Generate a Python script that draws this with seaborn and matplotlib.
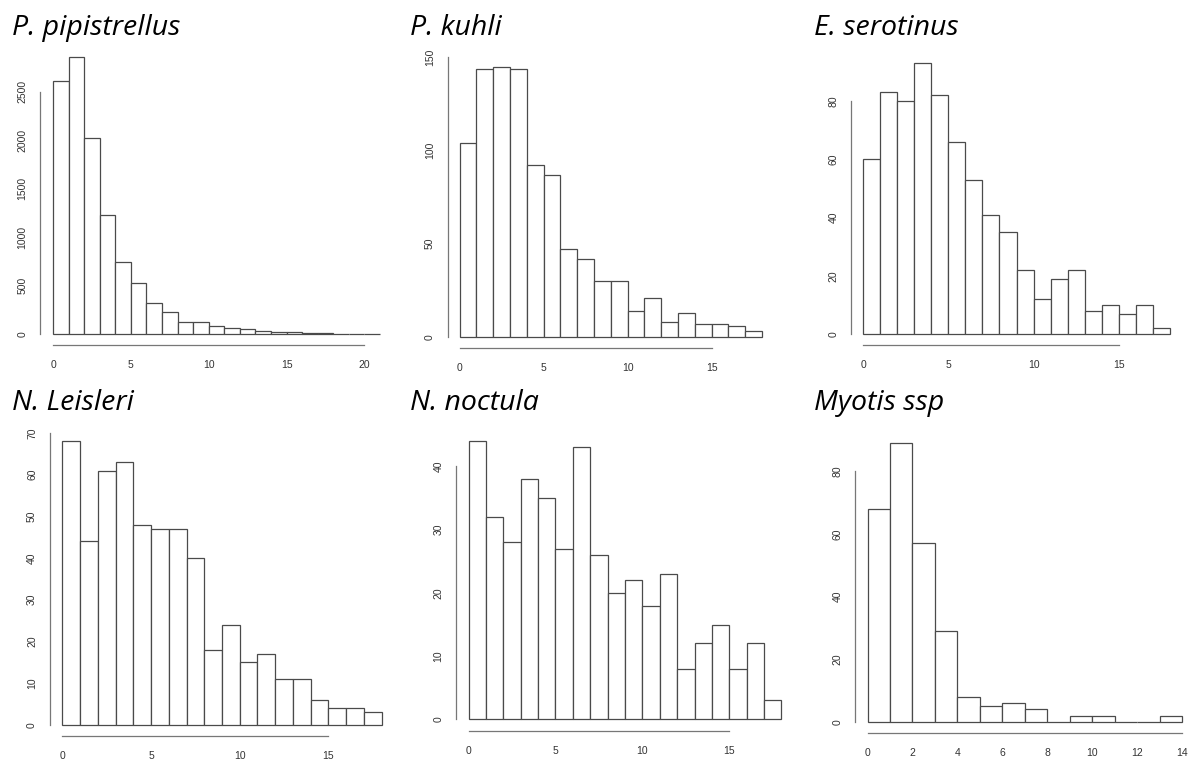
import numpy as np
import pandas as pd
import seaborn as sns
import matplotlib
matplotlib.use("Agg")
import matplotlib.pyplot as plt

# counts per 1-unit bin
species = ["P. pipistrellus", "P. kuhli", "E. serotinus",
           "N. Leisleri", "N. noctula", "Myotis ssp"]
pipistrellus = [2615, 2860, 2023, 1228, 743, 526, 320, 225, 127, 124, 83,
                62, 52, 34, 24, 24, 10, 10, 0, 0, 0]
kuhli = [104, 144, 145, 144, 92, 87, 47, 42, 30, 30, 14, 21, 8, 13, 7, 7, 6, 3]
serotinus = [60, 83, 80, 93, 82, 66, 53, 41, 35, 22, 12, 19, 22, 8, 10, 7, 10, 2]
leisleri = [68, 44, 61, 63, 48, 47, 47, 40, 18, 24, 15, 17, 11, 11, 6, 4, 4, 3]
noctula = [44, 32, 28, 38, 35, 27, 43, 26, 20, 22, 18, 23, 8, 12, 15, 8, 12, 3]
myotis = [68, 89, 57, 29, 8, 5, 6, 4, 0, 2, 2, 0, 0, 2]
counts = [pipistrellus, kuhli, serotinus, leisleri, noctula, myotis]

y_ticks = [range(0, 2501, 500), range(0, 151, 50), range(0, 81, 20),
           range(0, 71, 10), range(0, 41, 10), range(0, 81, 20)]
x_ticks = [range(0, 21, 5), range(0, 16, 5), range(0, 16, 5),
           range(0, 16, 5), range(0, 16, 5), range(0, 15, 2)]

# axes boxes in pixels: left, right, top, bottom
W, H = 1190, 760
boxes = [(40, 393, 46, 345), (447.5, 774, 56, 347.5), (851, 1182, 52, 345),
         (49.5, 394.5, 430, 736), (456, 794, 430, 730.5), (855, 1194.6, 432, 733)]
# title baseline positions
title_pos = [(12, 35), (410, 35), (814, 35), (12, 410), (410, 410), (814, 410)]

sns.set_style("white")
plt.rcParams["font.family"] = ["Liberation Sans", "DejaVu Sans"]

fig = plt.figure(figsize=(W / 100, H / 100), dpi=100)
for i, name in enumerate(species):
    l, r, t, b = boxes[i]
    ax = fig.add_axes([l / W, 1 - b / H, (r - l) / W, (b - t) / H])
    c = counts[i]
    n = len(c)
    df = pd.DataFrame({"x": np.arange(n) + 0.5, "n": c})
    sns.histplot(data=df, x="x", weights="n", bins=n, binrange=(0, n), ax=ax,
                 color="white", edgecolor="#4a4a4a", linewidth=0.9, alpha=1)
    mx = max(c)
    ax.set_xlim(-0.04 * n, 1.04 * n)
    ax.set_ylim(-0.04 * mx, 1.04 * mx)
    ax.set_xticks(list(x_ticks[i]))
    ax.set_yticks(list(y_ticks[i]))
    ax.set_xlabel("")
    ax.set_ylabel("")
    for s in ["top", "right"]:
        ax.spines[s].set_visible(False)
    ax.spines["left"].set_bounds(y_ticks[i][0], y_ticks[i][-1])
    ax.spines["bottom"].set_bounds(x_ticks[i][0], x_ticks[i][-1])
    for s in ["left", "bottom"]:
        ax.spines[s].set_color("#777777")
        ax.spines[s].set_linewidth(0.9)
    ax.tick_params(axis="both", direction="out", length=4, width=0.9,
                   color="#777777", labelsize=7.5, labelcolor="#333333")
    ax.tick_params(axis="x", pad=7)
    ax.tick_params(axis="y", pad=5)
    for lab in ax.get_yticklabels():
        lab.set_rotation(90)
        lab.set_va("center")
    ax.set_facecolor("none")
    tx, ty = title_pos[i]
    fig.text(tx / W, 1 - ty / H, name, fontsize=20.5, style="italic",
             family=["Open Sans", "DejaVu Sans"], va="baseline", ha="left",
             color="black")

fig.savefig("out.png", dpi=100, facecolor="white")
